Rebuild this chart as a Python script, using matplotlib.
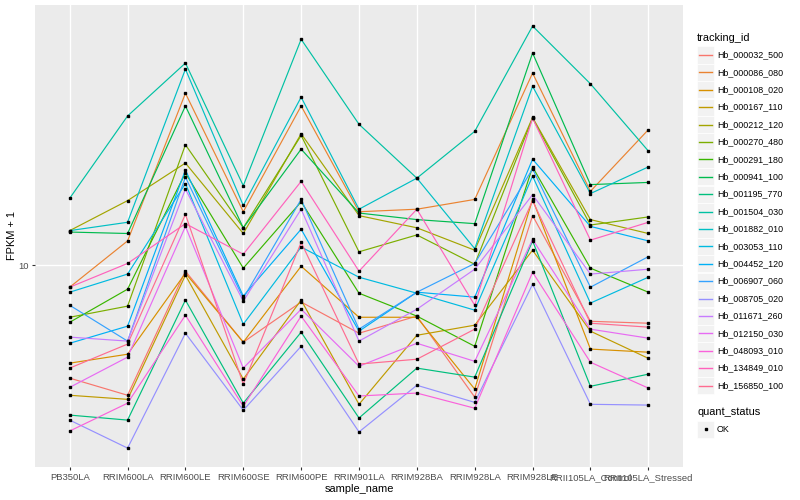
import matplotlib
matplotlib.use("Agg")
import matplotlib.pyplot as plt
from matplotlib.lines import Line2D
from matplotlib.patches import Rectangle

plt.rcParams['font.family'] = ['Liberation Sans', 'DejaVu Sans']

samples = ["PB350LA", "RRIM600LA", "RRIM600LE", "RRIM600SE", "RRIM600PE",
           "RRIM901LA", "RRIM928BA", "RRIM928LA", "RRIM928LE",
           "RRII105LA_Control", "RRII105LA_Stressed"]

tracking_ids = ["Hb_000032_500", "Hb_000086_080", "Hb_000108_020", "Hb_000167_110",
                "Hb_000212_120", "Hb_000270_480", "Hb_000291_180", "Hb_000941_100",
                "Hb_001195_770", "Hb_001504_030", "Hb_001882_010", "Hb_003053_110",
                "Hb_004452_120", "Hb_006907_060", "Hb_008705_020", "Hb_011671_260",
                "Hb_012150_030", "Hb_048093_010", "Hb_134849_010", "Hb_156850_100"]

colors = ["#F8766D", "#EA8331", "#D89000", "#C09B00", "#A3A500", "#7CAE00",
          "#39B600", "#00BB4E", "#00BF7D", "#00C1A3", "#00BFC4", "#00BAE0",
          "#00B0F6", "#35A2FF", "#9590FF", "#C77CFF", "#E76BF3", "#FA62DB",
          "#FF62BC", "#FF6C91"]

# FPKM + 1 per tracking id, across samples
Hb_000032_500 = [5.22, 4.73, 9.66, 6.42, 8.09, 6.76, 7.46, 4.68, 13.3, 7.24, 7.16]
Hb_000086_080 = [8.81, 11.5, 26.9, 13.6, 25.0, 13.6, 13.8, 14.6, 30.2, 15.3, 21.8]
Hb_000108_020 = [5.69, 5.99, 9.55, 6.42, 9.94, 7.41, 7.41, 4.90, 14.6, 6.17, 6.06]
Hb_000167_110 = [4.73, 4.62, 9.44, 5.19, 8.18, 4.49, 6.68, 7.08, 10.9, 6.84, 5.85]
Hb_000212_120 = [12.2, 14.5, 18.0, 12.0, 21.3, 13.3, 12.4, 10.9, 23.4, 13.0, 12.0]
Hb_000270_480 = [7.41, 7.90, 20.0, 12.4, 21.1, 10.8, 11.9, 10.05, 23.3, 12.6, 13.2]
Hb_000291_180 = [7.20, 8.71, 17.0, 9.83, 14.4, 8.51, 7.46, 6.27, 17.6, 9.83, 8.56]
Hb_000941_100 = [12.1, 12.0, 25.0, 12.4, 19.5, 13.5, 13.0, 12.7, 33.9, 15.9, 16.1]
Hb_001195_770 = [4.22, 4.10, 8.18, 4.52, 6.80, 4.15, 5.53, 5.25, 11.5, 4.98, 5.34]
Hb_001504_030 = [14.7, 23.6, 32.0, 15.8, 36.7, 22.5, 16.5, 21.6, 39.6, 28.4, 19.3]
Hb_001882_010 = [12.2, 12.8, 30.9, 14.1, 26.3, 13.8, 16.5, 11.0, 28.0, 15.1, 17.6]
Hb_003053_110 = [8.56, 9.50, 16.0, 7.12, 11.1, 9.33, 8.51, 7.72, 16.7, 8.04, 9.33]
Hb_004452_120 = [6.38, 7.04, 17.3, 8.37, 12.3, 6.84, 8.56, 8.32, 18.4, 12.5, 11.5]
Hb_006907_060 = [7.94, 6.46, 16.6, 8.27, 14.6, 6.92, 8.56, 10.1, 17.4, 8.81, 10.5]
Hb_008705_020 = [4.10, 3.49, 6.76, 4.34, 6.27, 3.83, 5.01, 4.54, 8.96, 4.49, 4.47]
Hb_011671_260 = [6.61, 6.46, 15.5, 8.13, 13.8, 6.46, 7.76, 9.77, 15.0, 9.50, 9.77]
Hb_012150_030 = [4.95, 5.89, 12.5, 5.53, 7.76, 5.59, 6.38, 5.75, 11.6, 6.92, 6.57]
Hb_048093_010 = [3.85, 4.52, 7.50, 4.44, 7.46, 4.71, 4.79, 4.39, 9.60, 5.72, 4.93]
Hb_134849_010 = [8.81, 10.1, 12.7, 10.65, 16.2, 9.66, 13.8, 7.94, 23.3, 11.55, 12.8]
Hb_156850_100 = [5.53, 6.35, 13.4, 5.04, 11.4, 5.66, 5.82, 6.92, 14.5, 7.16, 7.00]

series = [Hb_000032_500, Hb_000086_080, Hb_000108_020, Hb_000167_110, Hb_000212_120,
          Hb_000270_480, Hb_000291_180, Hb_000941_100, Hb_001195_770, Hb_001504_030,
          Hb_001882_010, Hb_003053_110, Hb_004452_120, Hb_006907_060, Hb_008705_020,
          Hb_011671_260, Hb_012150_030, Hb_048093_010, Hb_134849_010, Hb_156850_100]

W, H = 800, 500
fig = plt.figure(figsize=(8, 5), dpi=100)
ax = fig.add_axes([35 / W, 1 - 467 / H, (683 - 35) / W, (467 - 5) / H])
ax.set_facecolor("#EBEBEB")
for s in ax.spines.values():
    s.set_visible(False)

xs = list(range(len(samples)))
for vals, c in zip(series, colors):
    ax.plot(xs, vals, color=c, lw=0.85, zorder=3)
for vals in series:
    ax.plot(xs, vals, ls="none", marker="s", ms=2.1, color="black", zorder=4)

ax.set_yscale("log")
ax.set_ylim(3.13, 44.7)
ax.set_xlim(-0.6, len(samples) - 0.4)
ax.set_yticks([10])
ax.set_yticklabels(["10"])
ax.yaxis.set_minor_locator(matplotlib.ticker.NullLocator())
ax.set_xticks(xs)
ax.set_xticklabels(samples)
ax.grid(True, color="white", lw=1.0, zorder=1)
ax.set_axisbelow(True)
ax.tick_params(axis="both", colors="#333333", length=2.5, width=0.8,
               labelsize=6.8, labelcolor="#4D4D4D", pad=2)
ax.set_xlabel("sample_name", fontsize=7.9, labelpad=1)
ax.set_ylabel("FPKM + 1", fontsize=7.9, labelpad=1)

# legend drawn manually in figure coordinates
def fx(x):
    return x / W

def fy(y):
    return 1 - y / H

fig.text(fx(697), fy(38), "tracking_id", fontsize=7.9, va="center", ha="left")
step = 17.4
for i, (name, c) in enumerate(zip(tracking_ids, colors)):
    yc = 55 + step * i
    fig.add_artist(Rectangle((fx(697), fy(yc + 8.5)), 17 / W, 17 / H,
                             facecolor="#F2F2F2", edgecolor="white", lw=0.5,
                             transform=fig.transFigure))
    fig.add_artist(Line2D([fx(699), fx(712)], [fy(yc), fy(yc)], color=c, lw=1.0,
                          transform=fig.transFigure))
    fig.text(fx(717), fy(yc), name, fontsize=6.4, va="center", ha="left")

fig.text(fx(697), fy(412), "quant_status", fontsize=7.9, va="center", ha="left")
fig.add_artist(Rectangle((fx(697), fy(429 + 8.5)), 17 / W, 17 / H,
                         facecolor="#F2F2F2", edgecolor="white", lw=0.5,
                         transform=fig.transFigure))
fig.add_artist(Line2D([fx(705.5)], [fy(429)], marker="s", ms=2.1, color="black",
                      ls="none", transform=fig.transFigure))
fig.text(fx(717), fy(429), "OK", fontsize=6.4, va="center", ha="left")

fig.savefig("out.png", dpi=100, facecolor="white")
